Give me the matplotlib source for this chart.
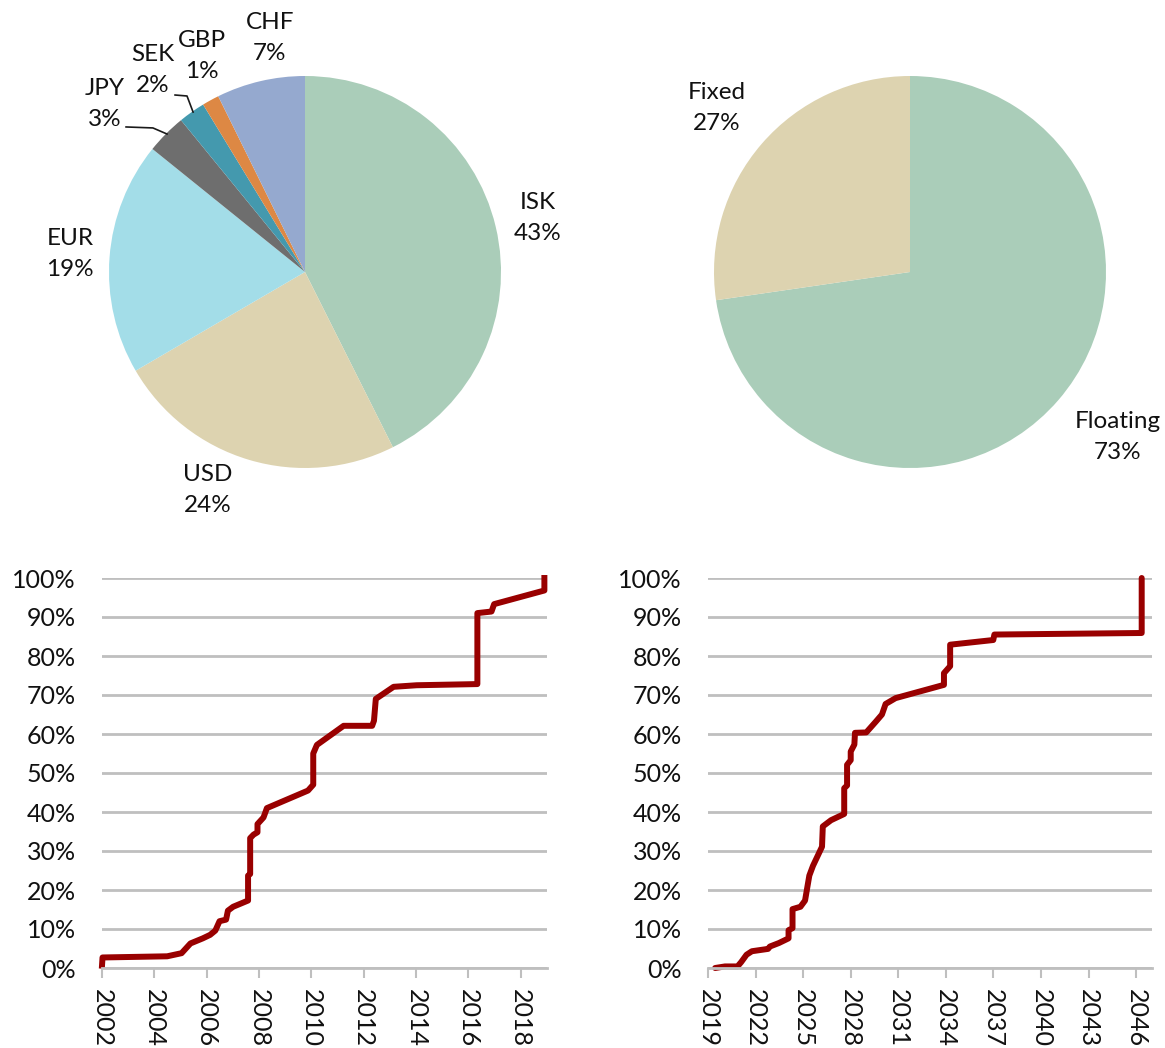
import matplotlib
matplotlib.use("Agg")
import matplotlib.pyplot as plt
from matplotlib.ticker import FuncFormatter, MultipleLocator

plt.rcParams['font.family'] = ['Lato', 'DejaVu Sans']

# Currency composition of debt
currencies = ["ISK", "USD", "EUR", "JPY", "SEK", "GBP", "CHF"]
currency_share = [42.6, 24.0, 19.2, 3.3, 2.2, 1.4, 7.3]
currency_colors = ["#aacdb9", "#ddd3b0", "#a3dde8", "#6e6e6e", "#4499ae", "#dd8844", "#95a9cf"]

# Interest rate type
rate_types = ["Floating", "Fixed"]
rate_share = [72.7, 27.3]
rate_colors = ["#aacdb9", "#ddd3b0"]

# Cumulative share of debt by issue date
issue_year = [2002.0, 2002.02, 2004.49, 2005.04, 2005.38, 2005.85, 2006.13, 2006.33, 2006.49,
              2006.74, 2006.81, 2007.01, 2007.58, 2007.58, 2007.66, 2007.66, 2007.79, 2007.94,
              2007.94, 2008.17, 2008.30, 2009.87, 2010.07, 2010.07, 2010.21, 2011.23, 2012.32,
              2012.39, 2012.46, 2013.14, 2014.02, 2016.34, 2016.34, 2016.88, 2016.98, 2018.90,
              2018.90]
issue_cum = [0.6, 2.7, 3.0, 3.8, 6.3, 7.6, 8.5, 9.6, 12.0,
             12.4, 14.7, 15.7, 17.3, 23.7, 24.1, 33.3, 34.2, 34.8,
             36.9, 38.6, 41.0, 45.5, 47.0, 55.0, 57.2, 62.1, 62.1,
             63.4, 69.0, 72.1, 72.5, 72.8, 91.0, 91.4, 93.3, 96.8,
             100.0]

# Cumulative share of debt by maturity date
maturity_year = [2019.45, 2020.07, 2020.86, 2021.09, 2021.43, 2021.77, 2022.79, 2022.90, 2023.47,
                 2024.08, 2024.08, 2024.33, 2024.33, 2024.83, 2025.12, 2025.39, 2025.62, 2026.19,
                 2026.24, 2026.76, 2027.59, 2027.59, 2027.77, 2027.77, 2028.00, 2028.00, 2028.23,
                 2028.27, 2028.98, 2029.59, 2029.97, 2030.20, 2030.83, 2033.88, 2033.88, 2034.27,
                 2034.27, 2036.99, 2037.06, 2046.35, 2046.35]
maturity_cum = [0.0, 0.4, 0.4, 1.5, 3.4, 4.3, 4.9, 5.5, 6.4,
                7.6, 9.7, 10.2, 15.1, 15.7, 17.3, 23.7, 26.2, 31.1,
                36.3, 37.9, 39.5, 46.1, 46.8, 52.1, 53.3, 55.5, 57.3,
                60.3, 60.4, 63.2, 65.0, 67.7, 69.2, 72.6, 75.6, 77.4,
                82.9, 84.1, 85.5, 85.9, 100.0]

W, H = 1165, 1048
fig = plt.figure(figsize=(W / 100, H / 100), dpi=100)
FS_PIE = 17.5
FS_TICK = 18
TXT = "#111111"


def px_axes(x0, y0, x1, y1):
    return fig.add_axes([x0 / W, 1 - y1 / H, (x1 - x0) / W, (y1 - y0) / H])


def draw_pie(ax, values, colors):
    ax.pie(values, colors=colors, startangle=90, counterclock=False,
           wedgeprops=dict(linewidth=0), radius=1.0)
    ax.set_xlim(-1, 1)
    ax.set_ylim(-1, 1)
    ax.set_aspect('auto')
    ax.axis('off')


# Currency pie
R = 196
ax1 = px_axes(305 - R, 272 - R, 305 + R, 272 + R)
draw_pie(ax1, currency_share, currency_colors)
cur_label_pos = {
    "ISK": (1.189, 0.276), "USD": (-0.495, -1.112), "EUR": (-1.199, 0.092),
    "JPY": (-1.020, 0.857), "SEK": (-0.776, 1.031), "GBP": (-0.526, 1.102),
    "CHF": (-0.179, 1.194),
}
for name, val in zip(currencies, currency_share):
    x, y = cur_label_pos[name]
    ax1.text(x, y, f"{name}\n{val:.0f}%", ha='center', va='center', fontsize=FS_PIE,
             color=TXT, linespacing=1.6, clip_on=False)
ax1.plot([-0.913, -0.776, -0.704], [0.740, 0.735, 0.704], color="#1a1a1a", lw=1.2,
         clip_on=False)
ax1.plot([-0.663, -0.602, -0.571], [0.903, 0.898, 0.816], color="#1a1a1a", lw=1.2,
         clip_on=False)

# Rate type pie
ax2 = px_axes(910 - R, 272 - R, 910 + R, 272 + R)
draw_pie(ax2, rate_share, rate_colors)
rate_label_pos = {"Floating": (1.061, -0.842), "Fixed": (-0.985, 0.837)}
for name, val in zip(rate_types, rate_share):
    x, y = rate_label_pos[name]
    ax2.text(x, y, f"{name}\n{val:.0f}%", ha='center', va='center', fontsize=FS_PIE,
             color=TXT, linespacing=1.6, clip_on=False)

LINE = "#990000"
GRID = "#bfbfbf"


def style_line_axes(ax, xmin, xmax, step):
    ax.set_ylim(0, 100)
    ax.set_xlim(xmin, xmax)
    ax.yaxis.set_major_locator(MultipleLocator(10))
    ax.yaxis.set_major_formatter(FuncFormatter(lambda v, p: f"{v:.0f}%"))
    ax.xaxis.set_major_locator(MultipleLocator(step))
    ax.xaxis.set_major_formatter(FuncFormatter(lambda v, p: f"{v:.0f}"))
    ax.grid(axis='y', color=GRID, lw=2)
    ax.set_axisbelow(True)
    for s in ['top', 'right', 'left']:
        ax.spines[s].set_visible(False)
    ax.spines['bottom'].set_color(GRID)
    ax.spines['bottom'].set_linewidth(2)
    ax.tick_params(axis='y', length=0, labelsize=FS_TICK, labelcolor=TXT, pad=19)
    ax.tick_params(axis='x', length=7, width=1.5, color=GRID, labelsize=FS_TICK,
                   labelcolor=TXT, labelrotation=-90, pad=8)


ax3 = px_axes(102, 578, 547, 968)
ax3.plot(issue_year, issue_cum, color=LINE, lw=4.3, solid_joinstyle='round',
         clip_on=False)
style_line_axes(ax3, 2002, 2019, 2)

ax4 = px_axes(708, 578, 1152, 968)
ax4.plot(maturity_year, maturity_cum, color=LINE, lw=4.3, solid_joinstyle='round',
         solid_capstyle='round', clip_on=False)
style_line_axes(ax4, 2019, 2047, 3)

fig.savefig("out.png", dpi=100)
